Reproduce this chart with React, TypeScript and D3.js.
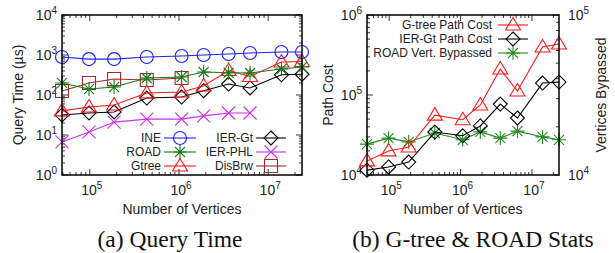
import React from "react";
import * as d3 from "d3";

// ---------- data ----------
const vertices = [48812, 97975, 187315, 435666, 1070376, 1890815, 3598623, 6262104, 14081816, 23947347];

const ineTime = [890, 790, 790, 890, 940, 1000, 1060, 1120, 1190, 1190];
const roadTime = [200, 141, 158, 266, 282, 376, 360, 355, 447, 501];
const gtreeTime = [40, 50, 56, 112, 119, 168, 410, 290, 668, 690];
const ierGtTime = [31.6, 35.5, 37.6, 84, 89, 128, 188, 150, 320, 330];
const ierPhlTime = [6.7, 11.9, 21, 25, 25, 30, 35.5, 35.5];
const disBrwTime = [126, 200, 251, 237, 266];

const gtreePathCost = [15000, 20000, 22400, 56000, 49000, 75000, 211000, 112000, 398000, 434000];
const ierGtPathCost = [11500, 12600, 14500, 34400, 30900, 41000, 77000, 51600, 141000, 145000];
const roadBypassed = [15600, 17000, 16100, 18300, 16600, 18600, 17000, 18800, 17300, 16600];

const leftYTicks = [0, 1, 2, 3, 4];
const xTickExps = [5, 6, 7];
const rightYTicks = [4, 5, 6];
const rightY2Ticks = [4, 5];

// ---------- style ----------
const SANS = "'Liberation Sans', Arial, Helvetica, sans-serif";
const SERIF = "'Liberation Serif', 'Times New Roman', serif";

type MarkerKind = "circle" | "star" | "triangle" | "diamond" | "x" | "square";

function markerPath(kind: MarkerKind): string {
  const p = d3.path();
  switch (kind) {
    case "circle":
      p.moveTo(6.5, 0);
      p.arc(0, 0, 6.5, 0, Math.PI * 2);
      break;
    case "star": {
      const s = 7;
      const d = 5;
      p.moveTo(-s, 0); p.lineTo(s, 0);
      p.moveTo(0, -s); p.lineTo(0, s);
      p.moveTo(-d, -d); p.lineTo(d, d);
      p.moveTo(-d, d); p.lineTo(d, -d);
      break;
    }
    case "triangle":
      p.moveTo(0, -7.5); p.lineTo(7.5, 5); p.lineTo(-7.5, 5); p.closePath();
      break;
    case "diamond":
      p.moveTo(0, -7); p.lineTo(7, 0); p.lineTo(0, 7); p.lineTo(-7, 0); p.closePath();
      break;
    case "x": {
      const s = 6.5;
      p.moveTo(-s, -s); p.lineTo(s, s);
      p.moveTo(-s, s); p.lineTo(s, -s);
      break;
    }
    case "square":
      p.rect(-6.5, -6.5, 13, 13);
      break;
  }
  return p.toString();
}

function minorValues(domain: [number, number]): number[] {
  const out: number[] = [];
  const lo = Math.floor(Math.log10(domain[0]));
  const hi = Math.ceil(Math.log10(domain[1]));
  for (let e = lo; e <= hi; e++) {
    for (let k = 2; k <= 9; k++) {
      const v = k * Math.pow(10, e);
      if (v >= domain[0] && v <= domain[1]) out.push(v);
    }
  }
  return out;
}

function majorValues(domain: [number, number]): number[] {
  const out: number[] = [];
  const lo = Math.ceil(Math.log10(domain[0]) - 1e-9);
  const hi = Math.floor(Math.log10(domain[1]) + 1e-9);
  for (let e = lo; e <= hi; e++) out.push(Math.pow(10, e));
  return out;
}

type Series = {
  name: string;
  values: number[];
  color: string;
  marker: MarkerKind;
  axis?: "y" | "y2";
};

const Pow = ({ x, y, exp, anchor }: { x: number; y: number; exp: number; anchor: "start" | "middle" | "end" }) => (
  <text x={x} y={y} textAnchor={anchor} fontFamily={SANS} fontSize={14} fill="#222">
    10
    <tspan dy={-6} fontSize={10}>{exp}</tspan>
  </text>
);

function SeriesMarks({ s, x, y }: { s: Series; x: d3.ScaleLogarithmic<number, number>; y: d3.ScaleLogarithmic<number, number> }) {
  const pts = s.values.map((v, i) => [x(vertices[i]), y(v)] as [number, number]);
  const line = d3.line()(pts) || "";
  const mp = markerPath(s.marker);
  return (
    <g>
      <path d={line} fill="none" stroke={s.color} strokeWidth={1.1} />
      {pts.map((p, i) => (
        <path key={i} d={mp} transform={`translate(${p[0]},${p[1]})`} fill="none" stroke={s.color} strokeWidth={1.1} />
      ))}
    </g>
  );
}

function LegendItem({ s, textEnd, lineX0, lineX1, cy }: { s: Series; textEnd: number; lineX0: number; lineX1: number; cy: number }) {
  const mx = (lineX0 + lineX1) / 2;
  return (
    <g>
      <text x={textEnd} y={cy + 4.3} textAnchor="end" fontFamily={SANS} fontSize={12} fill="#222">
        {s.name}
      </text>
      <line x1={lineX0} x2={lineX1} y1={cy} y2={cy} stroke={s.color} strokeWidth={1.1} />
      <path d={markerPath(s.marker)} transform={`translate(${mx},${cy})`} fill="none" stroke={s.color} strokeWidth={1.1} />
    </g>
  );
}

const xDomain: [number, number] = [vertices[0], vertices[vertices.length - 1]];

function Frame({ l, r, t, b }: { l: number; r: number; t: number; b: number }) {
  return <rect x={l} y={t} width={r - l} height={b - t} fill="none" stroke="#000" strokeWidth={1.5} />;
}

function XTicks({ x, t, b }: { x: d3.ScaleLogarithmic<number, number>; t: number; b: number }) {
  return (
    <g stroke="#000" strokeWidth={0.8}>
      {majorValues(xDomain).map((v) => (
        <g key={"M" + v}>
          <line x1={x(v)} x2={x(v)} y1={b} y2={b - 6} />
          <line x1={x(v)} x2={x(v)} y1={t} y2={t + 6} />
        </g>
      ))}
      {minorValues(xDomain).map((v) => (
        <g key={"m" + v}>
          <line x1={x(v)} x2={x(v)} y1={b} y2={b - 3} />
          <line x1={x(v)} x2={x(v)} y1={t} y2={t + 3} />
        </g>
      ))}
    </g>
  );
}

function YTicks({ y, xEdge, dir, domain }: { y: d3.ScaleLogarithmic<number, number>; xEdge: number; dir: number; domain: [number, number] }) {
  return (
    <g stroke="#000" strokeWidth={0.8}>
      {majorValues(domain).map((v) => (
        <line key={"M" + v} x1={xEdge} x2={xEdge + dir * 6} y1={y(v)} y2={y(v)} />
      ))}
      {minorValues(domain).map((v) => (
        <line key={"m" + v} x1={xEdge} x2={xEdge + dir * 3} y1={y(v)} y2={y(v)} />
      ))}
    </g>
  );
}

export default function App() {
  // ---- left chart ----
  const L = { l: 62, r: 302, t: 15, b: 175 };
  const xL = d3.scaleLog().domain(xDomain).range([L.l, L.r]);
  const yLDomain: [number, number] = [1, 1e4];
  const yL = d3.scaleLog().domain(yLDomain).range([L.b, L.t]);

  const leftSeries: Series[] = [
    { name: "INE", values: ineTime, color: "#1f1fff", marker: "circle" },
    { name: "ROAD", values: roadTime, color: "#1b7a1b", marker: "star" },
    { name: "Gtree", values: gtreeTime, color: "#ff1a1a", marker: "triangle" },
    { name: "IER-Gt", values: ierGtTime, color: "#000000", marker: "diamond" },
    { name: "IER-PHL", values: ierPhlTime, color: "#c92cf5", marker: "x" },
    { name: "DisBrw", values: disBrwTime, color: "#9e2a2a", marker: "square" },
  ];
  const drawOrder = [5, 4, 3, 2, 1, 0];

  // ---- right chart ----
  const R = { l: 367, r: 559, t: 15, b: 175 };
  const xR = d3.scaleLog().domain(xDomain).range([R.l, R.r]);
  const yRDomain: [number, number] = [1e4, 1e6];
  const yR = d3.scaleLog().domain(yRDomain).range([R.b, R.t]);
  const y2Domain: [number, number] = [1e4, 1e5];
  const y2R = d3.scaleLog().domain(y2Domain).range([R.b, R.t]);

  const rightSeries: Series[] = [
    { name: "G-tree Path Cost", values: gtreePathCost, color: "#ff1a1a", marker: "triangle", axis: "y" },
    { name: "IER-Gt Path Cost", values: ierGtPathCost, color: "#000000", marker: "diamond", axis: "y" },
    { name: "ROAD Vert. Bypassed", values: roadBypassed, color: "#228b22", marker: "star", axis: "y2" },
  ];

  return (
    <svg width={615} height={253} style={{ position: "absolute", left: 0, top: 0, background: "#fff" }}>
      <rect x={0} y={0} width={615} height={253} fill="#fff" />

      {/* ===== Left chart ===== */}
      <XTicks x={xL} t={L.t} b={L.b} />
      <YTicks y={yL} xEdge={L.l} dir={1} domain={yLDomain} />
      <YTicks y={yL} xEdge={L.r} dir={-1} domain={yLDomain} />
      {leftYTicks.map((e) => (
        <Pow key={e} x={L.l - 5} y={yL(Math.pow(10, e)) + 5} exp={e} anchor="end" />
      ))}
      {xTickExps.map((e) => (
        <Pow key={e} x={xL(Math.pow(10, e)) + 2} y={195} exp={e} anchor="middle" />
      ))}
      <text x={(L.l + L.r) / 2} y={214} textAnchor="middle" fontFamily={SANS} fontSize={14} fill="#222">
        Number of Vertices
      </text>
      <text transform={`translate(23,${(L.t + L.b) / 2}) rotate(-90)`} textAnchor="middle" fontFamily={SANS} fontSize={14} fill="#222">
        Query Time (µs)
      </text>
      {drawOrder.map((i) => (
        <SeriesMarks key={i} s={leftSeries[i]} x={xL} y={yL} />
      ))}
      {[0, 1, 2].map((i) => (
        <LegendItem key={"a" + i} s={leftSeries[i]} textEnd={161} lineX0={164} lineX1={196} cy={138 + i * 14} />
      ))}
      {[3, 4, 5].map((i) => (
        <LegendItem key={"b" + i} s={leftSeries[i]} textEnd={253} lineX0={256} lineX1={286} cy={138 + (i - 3) * 14} />
      ))}
      <Frame {...L} />
      <text x={170} y={247} textAnchor="middle" fontFamily={SERIF} fontSize={23.5} fill="#111">
        (a) Query Time
      </text>

      {/* ===== Right chart ===== */}
      <XTicks x={xR} t={R.t} b={R.b} />
      <YTicks y={yR} xEdge={R.l} dir={1} domain={yRDomain} />
      <YTicks y={y2R} xEdge={R.r} dir={-1} domain={y2Domain} />
      {rightYTicks.map((e) => (
        <Pow key={e} x={R.l - 5} y={yR(Math.pow(10, e)) + 5} exp={e} anchor="end" />
      ))}
      {rightY2Ticks.map((e) => (
        <Pow key={e} x={R.r + 9} y={y2R(Math.pow(10, e)) + 5} exp={e} anchor="start" />
      ))}
      {xTickExps.map((e) => (
        <Pow key={e} x={xR(Math.pow(10, e)) + 2} y={195} exp={e} anchor="middle" />
      ))}
      <text x={(R.l + R.r) / 2} y={214} textAnchor="middle" fontFamily={SANS} fontSize={14} fill="#222">
        Number of Vertices
      </text>
      <text transform={`translate(333,${(R.t + R.b) / 2}) rotate(-90)`} textAnchor="middle" fontFamily={SANS} fontSize={14} fill="#222">
        Path Cost
      </text>
      <text transform={`translate(606,${(R.t + R.b) / 2}) rotate(-90)`} textAnchor="middle" fontFamily={SANS} fontSize={14} fill="#222">
        Vertices Bypassed
      </text>
      {rightSeries
        .slice()
        .reverse()
        .map((s) => (
          <SeriesMarks key={s.name} s={s} x={xR} y={s.axis === "y2" ? y2R : yR} />
        ))}
      {rightSeries.map((s, i) => (
        <LegendItem key={s.name} s={s} textEnd={492} lineX0={498} lineX1={528} cy={25 + i * 14} />
      ))}
      <Frame {...R} />
      <text x={473} y={247} textAnchor="middle" fontFamily={SERIF} fontSize={23.5} fill="#111">
        (b) G-tree &amp; ROAD Stats
      </text>
    </svg>
  );
}
